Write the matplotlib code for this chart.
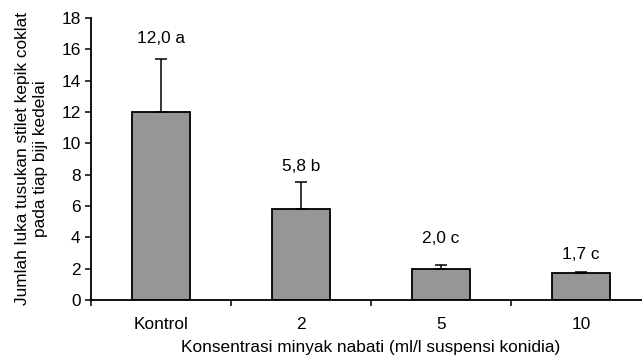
import matplotlib.pyplot as plt
import numpy as np

plt.rcParams['font.family'] = ['Liberation Sans', 'DejaVu Sans']

categories = ['Kontrol', '2', '5', '10']
means = [12.0, 5.8, 2.0, 1.7]
errors = [3.4, 1.7, 0.25, 0.1]
labels = ['12,0 a', '5,8 b', '2,0 c', '1,7 c']
label_gap = [1.3, 1.05, 1.7, 1.1]

fs = 12.4

fig = plt.figure(figsize=(6.42, 3.56), dpi=100)
ax = fig.add_axes([91/642, 1 - 300/356, 560/642, 282/356])

x = np.arange(len(categories))
ax.bar(x, means, width=0.41, color='#969696', edgecolor='black', linewidth=1.3,
       yerr=[np.zeros(len(means)), errors], capsize=4,
       error_kw=dict(elinewidth=1.1, capthick=1.1, ecolor='black'))

for xi, m, e, lab, g in zip(x, means, errors, labels, label_gap):
    ax.text(xi, m + e + g, lab, ha='center', va='center', fontsize=fs)

ax.set_xlim(-0.5, len(categories) - 0.5)
ax.set_ylim(0, 18)
ax.set_yticks(np.arange(0, 19, 2))
ax.set_xticks(x)
ax.set_xticklabels(categories)
ax.set_xticks(np.arange(-0.5, len(categories), 1), minor=True)
ax.tick_params(axis='x', which='major', length=0, pad=12, labelsize=fs)
ax.tick_params(axis='x', which='minor', length=4, width=1.1)
ax.tick_params(axis='y', length=4, width=1.1, labelsize=fs)

ax.spines['top'].set_visible(False)
ax.spines['right'].set_visible(False)
ax.spines['left'].set_linewidth(1.3)
ax.spines['bottom'].set_linewidth(1.3)

ax.set_ylabel('Jumlah luka tusukan stilet kepik coklat\npada tiap biji kedelai', fontsize=fs,
              linespacing=1.25)
ax.yaxis.set_label_coords(-0.077, 0.5)
ax.set_xlabel('Konsentrasi minyak nabati (ml/l suspensi konidia)', fontsize=fs, labelpad=6)

fig.savefig('out.png', dpi=100)
